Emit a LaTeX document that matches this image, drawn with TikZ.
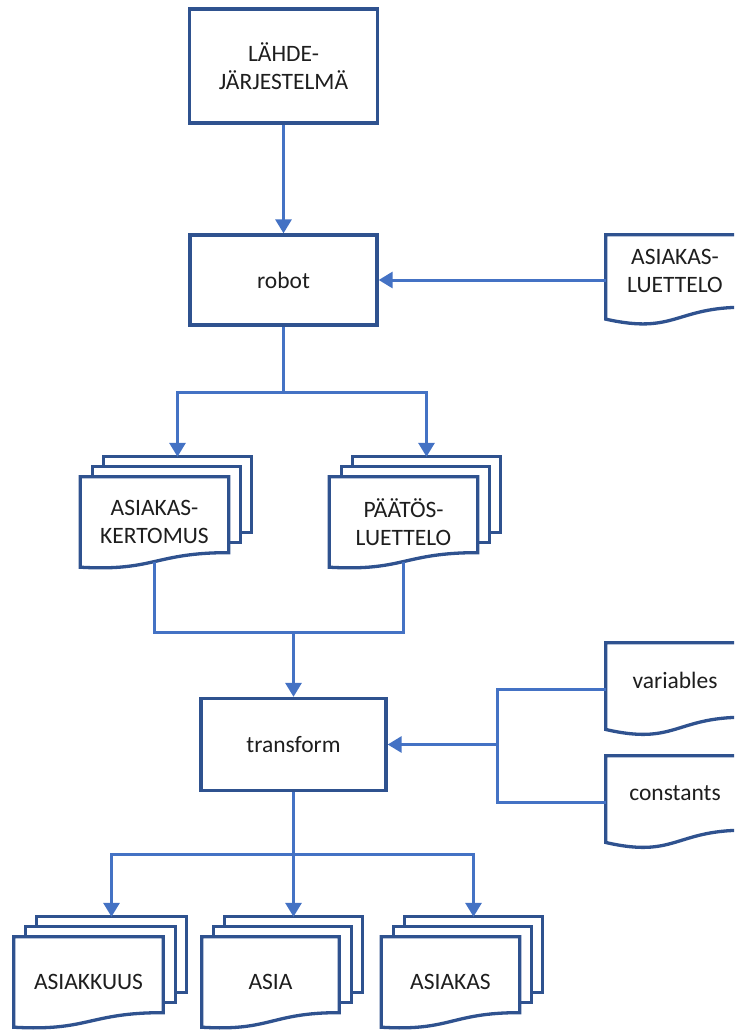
\documentclass[tikz,border=0pt]{standalone}
\usepackage{fontspec}
\setmainfont{Carlito}
\usetikzlibrary{arrows.meta,calc,backgrounds}
\definecolor{shapeblue}{HTML}{2F528F}
\definecolor{linkblue}{HTML}{4472C4}
\definecolor{inkgrey}{HTML}{1E1E1E}

\tikzset{
  every node/.style={font=\fontsize{23.5}{28}\selectfont, text=inkgrey, align=center,
                     inner sep=0pt},
  procbox/.style={draw=shapeblue, line width=3.3pt},
  sheet/.style={draw=shapeblue, line width=3.3pt, fill=white},
  conn/.style={draw=linkblue, line width=3pt},
  arr/.style={-{Triangle[width=16pt,length=14pt]}},
}

% single document: node = straight text area, wavy bottom below it
\newcommand\singledoc[1]{%
  \draw[sheet] let \p1=(#1.north west), \p2=(#1.south east), \p3=(#1.north),
                   \n1={\y1-\y2} in
    (\x1,\y1) -- (\x2,\y1) -- (\x2,\y2)
    .. controls (\x3,\y2) and (\x3,{\y1-1.380*\n1}) .. (\x1,{\y1-1.165*\n1}) -- cycle;}

% stacked documents: node = front sheet from top edge to lower-left corner
\newcommand\stackdoc[1]{%
  \draw[sheet] let \p1=(#1.north west), \p2=(#1.south east), \n1={(\y1-\y2)/1.192} in
    ({\x1+23pt},{\y1+20pt}) rectangle ({\x2+23pt},{\y1+20pt-\n1});
  \draw[sheet] let \p1=(#1.north west), \p2=(#1.south east), \n1={(\y1-\y2)/1.192} in
    ({\x1+12pt},{\y1+10pt}) rectangle ({\x2+12pt},{\y1+10pt-\n1});
  \draw[sheet] let \p1=(#1.north west), \p2=(#1.south east), \p3=(#1.north),
                   \n1={(\y1-\y2)/1.192} in
    (\x1,\y1) -- (\x2,\y1) -- (\x2,{\y1-\n1})
    .. controls (\x3,{\y1-\n1}) and (\x3,{\y1-1.249*\n1}) .. (\x1,\y2) -- cycle;}

\begin{document}
\begin{tikzpicture}[x=1pt,y=-1pt]
\useasboundingbox (0,0) rectangle (734,1030);
\clip (0,0) rectangle (734,1030);

% process boxes
\node[procbox, minimum width=188pt, minimum height=114pt] (src) at (283.5,66) {LÄHDE-\\JÄRJESTELMÄ};
\node[procbox, minimum width=187pt, minimum height=90pt] (robot) at (283.5,280) {robot};
\node[procbox, minimum width=185pt, minimum height=92pt] (transform) at (293.5,744.5) {transform};

% single documents
\node[minimum width=138pt, minimum height=72pt] (luet) at (675,271) {ASIAKAS-\\LUETTELO};
\node[minimum width=138pt, minimum height=74pt] (vars) at (675,680) {variables};
\node[minimum width=138pt, minimum height=74pt] (cons) at (675,793) {constants};

% stacked documents
\node[minimum width=148pt, minimum height=90pt] (kert) at (154.5,522) {ASIAKAS-\\KERTOMUS};
\node[minimum width=148pt, minimum height=90pt] (paat) at (403.5,522) {PÄÄTÖS-\\LUETTELO};
\node[minimum width=149pt, minimum height=90pt] (asiakk) at (88.5,982) {ASIAKKUUS};
\node[minimum width=137pt, minimum height=90pt] (asia) at (270.5,982) {ASIA};
\node[minimum width=138pt, minimum height=90pt] (asiakas) at (450.5,982) {ASIAKAS};

\begin{pgfonlayer}{background}
  \clip (0,0) rectangle (734,1030);
  \singledoc{luet}
  \singledoc{vars}
  \singledoc{cons}
  \stackdoc{kert}
  \stackdoc{paat}
  \stackdoc{asiakk}
  \stackdoc{asia}
  \stackdoc{asiakas}
\end{pgfonlayer}

% connection points
\coordinate (kert-in) at ([shift={(23pt,20pt)}]kert.north);
\coordinate (paat-in) at ([shift={(23pt,20pt)}]paat.north);
\coordinate (asiakk-in) at ([shift={(23pt,20pt)}]asiakk.north);
\coordinate (asia-in) at ([shift={(23pt,20pt)}]asia.north);
\coordinate (asiakas-in) at ([shift={(23pt,20pt)}]asiakas.north);
\coordinate (kert-out) at ($(kert.north)!0.937!(kert.south)$);
\coordinate (paat-out) at ($(paat.north)!0.937!(paat.south)$);
\coordinate (luet-in) at (luet.west |- robot.east);
\coordinate (vars-in) at ($(vars.north west)!0.623!(vars.south west)$);
\coordinate (cons-in) at ($(cons.north west)!0.623!(cons.south west)$);
\coordinate (fork1) at (283.5,392.5);
\coordinate (join) at (293.5,632.5);
\coordinate (fork2) at (497.5,744.5);
\coordinate (fork3) at (293.5,854.5);

% connectors
\draw[conn,arr] (src.south) -- (robot.north);
\draw[conn,arr] (luet-in) -- (robot.east);
\draw[conn] (robot.south) -- (fork1);
\draw[conn,arr] (fork1) -| (kert-in);
\draw[conn,arr] (fork1) -| (paat-in);
\draw[conn] (kert-out) |- (join) -| (paat-out);
\draw[conn,arr] (join) -- (transform.north);
\draw[conn] (vars-in) -| (fork2) |- (cons-in);
\draw[conn,arr] (fork2) -- (transform.east);
\draw[conn] (transform.south) -- (fork3);
\draw[conn,arr] (fork3) -| (asiakk-in);
\draw[conn,arr] (fork3) -| (asia-in);
\draw[conn,arr] (fork3) -| (asiakas-in);
\end{tikzpicture}
\end{document}
